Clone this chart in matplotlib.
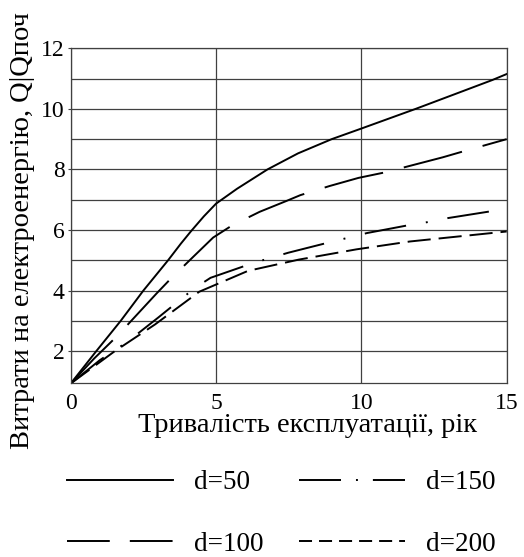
import numpy as np
import matplotlib.pyplot as plt
from matplotlib.lines import Line2D

plt.rcParams['font.family'] = ['Liberation Serif', 'DejaVu Serif']

# d=50
t50 = [0, 0.88, 1.72, 2.5, 3.35, 3.79, 4.13, 4.58, 5.0, 5.72, 6.77, 7.82, 8.98,
       10.0, 11.87, 13.2, 14.5, 15]
q50 = [0.93, 2.0, 3.0, 4.0, 5.0, 5.55, 5.95, 6.45, 6.87, 7.36, 8.0, 8.53, 9.0,
       9.35, 10.0, 10.48, 10.95, 11.15]
# d=100
t100 = [0, 0.8, 1.6, 2.95, 3.45, 4.2, 4.9, 5.55, 6.5, 7.4, 7.9, 8.9, 9.9, 10.8,
        11.8, 12.8, 13.52, 15]
q100 = [0.93, 1.75, 2.5, 3.9, 4.4, 5.1, 5.75, 6.15, 6.6, 6.95, 7.15, 7.45, 7.72, 7.9,
        8.15, 8.4, 8.6, 9.0]
# d=150
t150 = [0, 1.0, 1.94, 3.0, 4.25, 4.81, 6.16, 6.81, 7.49, 8.85, 9.53, 10.2, 11.58,
        12.28, 12.96, 15]
q150 = [0.93, 1.7, 2.3, 3.1, 4.07, 4.42, 4.87, 5.06, 5.25, 5.58, 5.74, 5.9, 6.15,
        6.26, 6.39, 6.7]
# d=200
t200 = [0, 1.49, 2.9, 4.42, 5.37, 6.1, 7.84, 9.83, 11.67, 15]
q200 = [0.93, 1.98, 2.88, 3.96, 4.35, 4.65, 5.02, 5.36, 5.62, 5.95]

labels = ['d=50', 'd=100', 'd=150', 'd=200']
plot_dashes = [None, (31, 11), (21.6, 10.3, 1, 10.3), (11.9, 4.1)]
legend_dashes = [None, (22, 10.3), (21.6, 7.7, 1, 7.7), (6.7, 3.6)]
lw = 1.4

fig = plt.figure(figsize=(5.24, 5.57), dpi=100)
ax = fig.add_axes([0.135, 0.3115, 0.832, 0.6018])

series = [(t50, q50), (t100, q100), (t150, q150), (t200, q200)]
for (t, q), d in zip(series, plot_dashes):
    if d is None:
        ax.plot(t, q, color='black', lw=lw)
    else:
        ax.plot(t, q, color='black', lw=lw, dashes=d)

ax.set_xlim(0, 15)
ax.set_ylim(0.93, 12)
ax.set_xticks([0, 5, 10, 15])
ax.set_yticks([2, 4, 6, 8, 10, 12])
ax.set_yticks([3, 5, 7, 9, 11], minor=True)
ax.grid(True, which='both', color='#404040', lw=0.9)
ax.tick_params(axis='y', which='major', labelsize=17, length=2.5, pad=2, color='#404040')
ax.tick_params(axis='y', which='minor', length=0)
ax.tick_params(axis='x', labelsize=17, length=0, pad=7)
for s in ax.spines.values():
    s.set_color('#404040')
    s.set_linewidth(0.9)

fig.text(307 / 524, 1 - 432 / 557, 'Тривалість експлуатації, рік',
         ha='center', va='baseline', fontsize=20.5)
fig.text(0.042, 1 - 231 / 557, 'Витрати на електроенергію, Q|Qпоч',
         rotation=90, va='center', ha='center', fontsize=20.5)

handles = []
for d in legend_dashes:
    if d is None:
        handles.append(Line2D([], [], color='black', lw=lw))
    else:
        handles.append(Line2D([], [], color='black', lw=lw, dashes=d))
fig.legend(handles, labels, ncol=2, loc='upper left',
           bbox_to_anchor=(67 / 524, 1 - 470 / 557),
           frameon=False, fontsize=19.5, handlelength=3.9, handletextpad=0.8,
           labelspacing=1.35, columnspacing=1.3, borderpad=0, borderaxespad=0)

fig.savefig('out.png', dpi=100)
